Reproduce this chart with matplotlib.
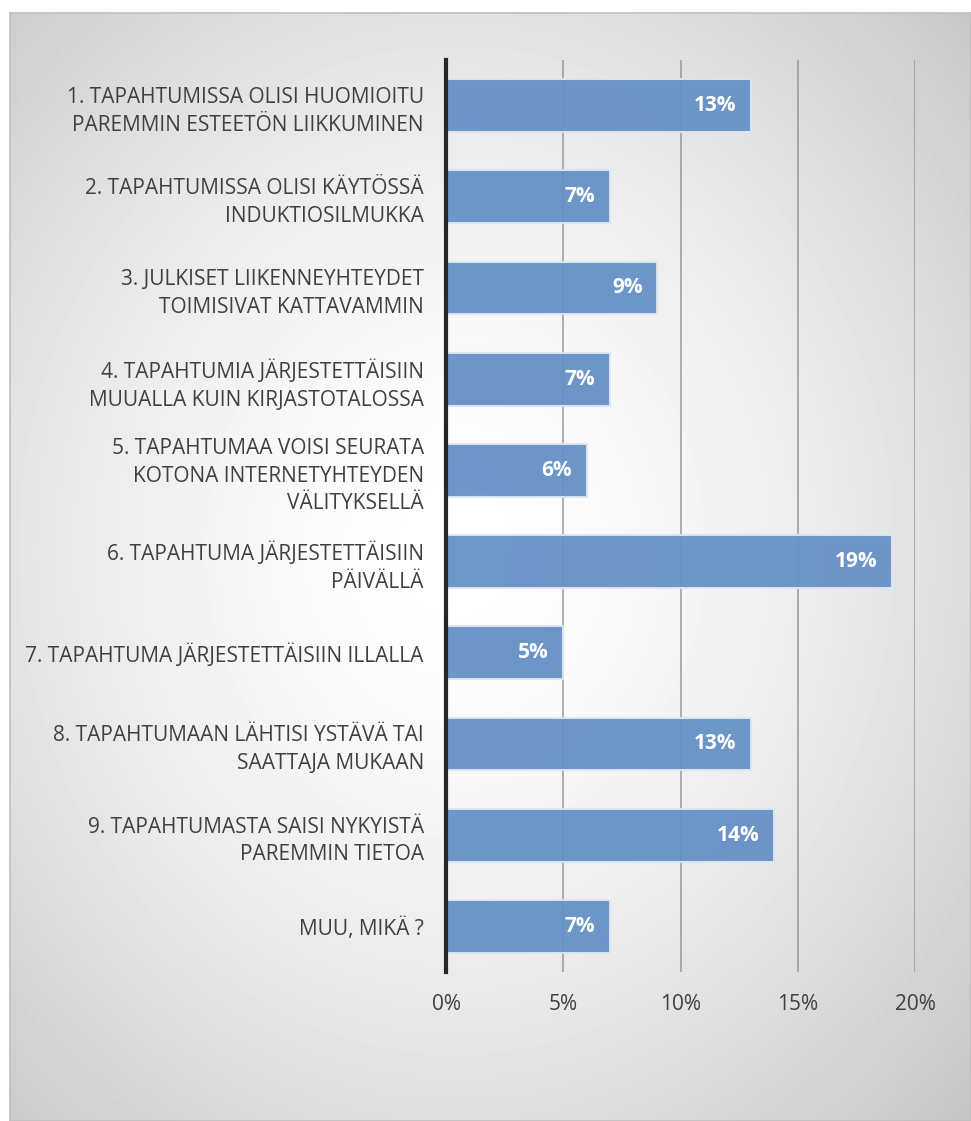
import numpy as np
import matplotlib.pyplot as plt

plt.rcParams['font.family'] = ['Open Sans', 'DejaVu Sans']

labels = ["1. TAPAHTUMISSA OLISI HUOMIOITU\nPAREMMIN ESTEETÖN LIIKKUMINEN",
          "2. TAPAHTUMISSA OLISI KÄYTÖSSÄ\nINDUKTIOSILMUKKA",
          "3. JULKISET LIIKENNEYHTEYDET\nTOIMISIVAT KATTAVAMMIN",
          "4. TAPAHTUMIA JÄRJESTETTÄISIIN\nMUUALLA KUIN KIRJASTOTALOSSA",
          "5. TAPAHTUMAA VOISI SEURATA\nKOTONA INTERNETYHTEYDEN\nVÄLITYKSELLÄ",
          "6. TAPAHTUMA JÄRJESTETTÄISIIN\nPÄIVÄLLÄ",
          "7. TAPAHTUMA JÄRJESTETTÄISIIN ILLALLA",
          "8. TAPAHTUMAAN LÄHTISI YSTÄVÄ TAI\nSAATTAJA MUKAAN",
          "9. TAPAHTUMASTA SAISI NYKYISTÄ\nPAREMMIN TIETOA",
          "MUU, MIKÄ ?"]
values = [13, 7, 9, 7, 6, 19, 5, 13, 14, 7]
xticks = [0, 5, 10, 15, 20]

W, H = 971, 1121
fig = plt.figure(figsize=(W / 100, H / 100), dpi=100)
fig.patch.set_facecolor('white')

# radial gradient background of the chart area
bg = fig.add_axes([10 / W, 0, (W - 10) / W, 1 - 13 / H])
yy, xx = np.mgrid[0:300, 0:260]
cx, cy = 120, 145
r = np.hypot((xx - cx) / 260, (yy - cy) / 300)
r = r / r.max()
v = 1 - 0.23 * r ** 1.6
bg.imshow(v, cmap='gray', vmin=0, vmax=1, aspect='auto', interpolation='bicubic',
          extent=[0, 1, 0, 1])
bg.set_xlim(0, 1)
bg.set_ylim(0, 1)
bg.set_xticks([])
bg.set_yticks([])
for s in bg.spines.values():
    s.set_color('#BFBFBF')
    s.set_linewidth(1.2)

ax = fig.add_axes([446 / W, 1 - 972 / H, (915 - 446) / W, (972 - 60) / H])
ax.patch.set_alpha(0)
y = np.arange(len(values))
ax.barh(y, values, height=0.58, color='#6590C6', edgecolor='#DCE6F2',
        linewidth=1.5, alpha=0.95, zorder=3)
for yi, val in zip(y, values):
    ax.text(val - 0.62, yi, f"{val}%", ha='right', va='center', color='white',
            fontsize=15, fontweight='bold', zorder=4)

ax.set_xlim(0, 20)
ax.set_ylim(len(values) - 0.5, -0.5)
ax.set_xticks(xticks)
ax.set_xticklabels([f"{t}%" for t in xticks])
ax.set_yticks(y)
ax.set_yticklabels(labels, linespacing=1.42)
ax.tick_params(axis='both', length=0, labelsize=15, colors='#404040')
ax.tick_params(axis='x', pad=16)
ax.tick_params(axis='y', pad=16)
ax.grid(axis='x', color='#999999', linewidth=1.1, zorder=1)
for s in ['top', 'right', 'bottom']:
    ax.spines[s].set_visible(False)
ax.spines['left'].set_color('#262626')
ax.spines['left'].set_linewidth(3)
ax.spines['left'].set_zorder(5)

fig.savefig('out.png', dpi=100, facecolor='white')
